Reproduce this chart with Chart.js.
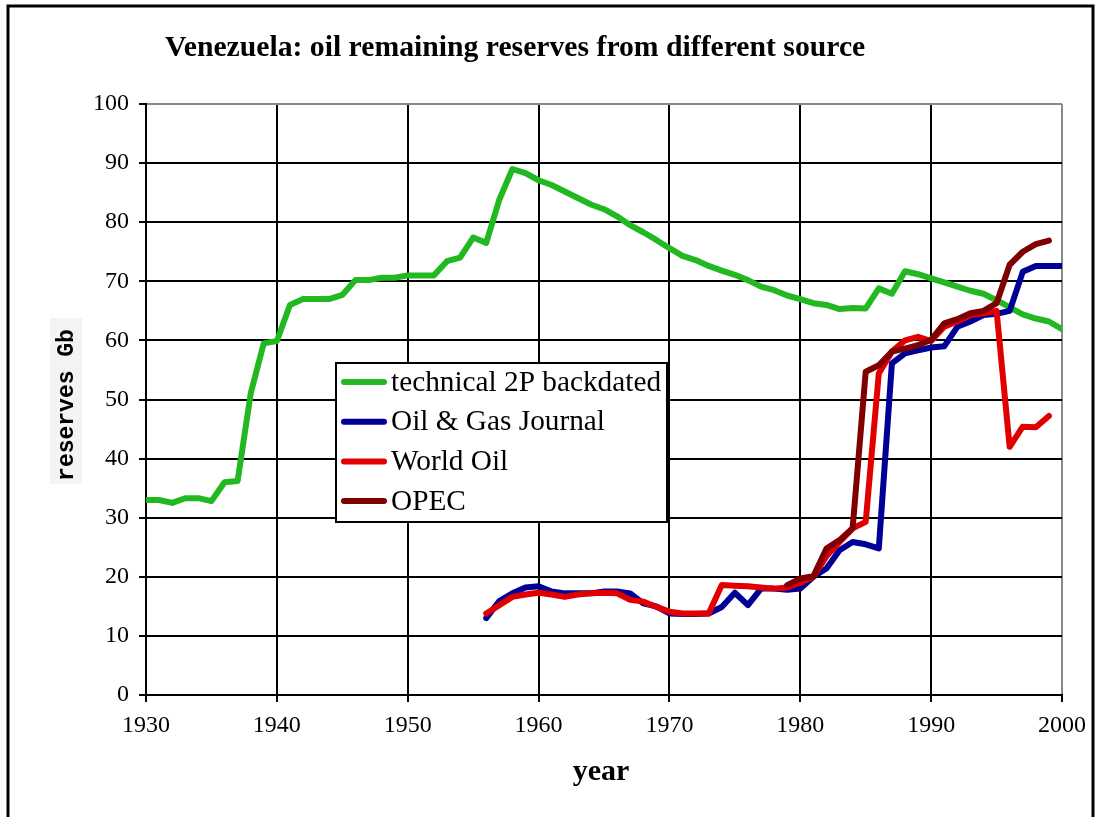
<!DOCTYPE html>
<html>
<head>
<meta charset="utf-8">
<title>Venezuela oil reserves</title>
<script src="https://cdn.jsdelivr.net/npm/chart.js@4.4.1/dist/chart.umd.min.js"></script>
<style>
    html, body { margin: 0; padding: 0; background: #fff; }
    #wrap { width: 1096px; height: 817px; }
</style>
</head>
<body>
<div id="wrap"><canvas id="reservesChart" width="1096" height="817"></canvas></div>
<script>
// years 1930 - 2000
const years = [
    1930, 1931, 1932, 1933, 1934, 1935, 1936, 1937, 1938, 1939,
    1940, 1941, 1942, 1943, 1944, 1945, 1946, 1947, 1948, 1949,
    1950, 1951, 1952, 1953, 1954, 1955, 1956, 1957, 1958, 1959,
    1960, 1961, 1962, 1963, 1964, 1965, 1966, 1967, 1968, 1969,
    1970, 1971, 1972, 1973, 1974, 1975, 1976, 1977, 1978, 1979,
    1980, 1981, 1982, 1983, 1984, 1985, 1986, 1987, 1988, 1989,
    1990, 1991, 1992, 1993, 1994, 1995, 1996, 1997, 1998, 1999,
    2000
];

// technical 2P backdated, from 1930
const technical2P = [
    33.0, 33.0, 32.5, 33.3, 33.3, 32.8, 36.0, 36.2, 51.0, 59.5,
    59.9, 66.0, 67.0, 67.0, 67.0, 67.7, 70.2, 70.2, 70.6, 70.6,
    71.0, 71.0, 71.0, 73.4, 74.0, 77.4, 76.5, 83.8, 89.0, 88.3,
    87.1, 86.3, 85.2, 84.1, 83.0, 82.2, 81.0, 79.5, 78.3, 77.0,
    75.6, 74.3, 73.6, 72.6, 71.8, 71.1, 70.2, 69.1, 68.5, 67.6,
    67.0, 66.3, 66.0, 65.3, 65.5, 65.4, 68.8, 67.9, 71.7, 71.2,
    70.5, 69.8, 69.1, 68.4, 67.9, 66.8, 65.6, 64.4, 63.7, 63.2,
    61.9
];

// Oil & Gas Journal, from 1956
const ogjStart = 1956;
const oilGasJournal = [
    13.0, 15.9, 17.2, 18.2, 18.4, 17.5, 17.2, 17.2, 17.2, 17.5,
    17.5, 17.2, 15.5, 15.0, 13.8, 13.7, 13.7, 13.8, 14.9, 17.3,
    15.2, 18.0, 18.0, 17.8, 18.0, 20.0, 21.4, 24.5, 25.9, 25.5,
    24.8, 56.1, 57.8, 58.3, 58.8, 59.0, 62.3, 63.2, 64.3, 64.5,
    65.0, 71.6, 72.6, 72.6, 72.6
];

// World Oil, from 1956
const woStart = 1956;
const worldOil = [
    13.8, 15.2, 16.6, 17.0, 17.3, 17.0, 16.6, 17.0, 17.2, 17.3,
    17.2, 16.1, 15.8, 14.9, 14.1, 13.8, 13.8, 13.8, 18.6, 18.5,
    18.4, 18.2, 18.0, 18.2, 19.0, 20.0, 23.5, 25.9, 28.2, 29.3,
    54.4, 58.1, 60.0, 60.6, 59.9, 62.3, 63.2, 64.3, 64.6, 65.0,
    42.0, 45.4, 45.3, 47.2
];

// OPEC, from 1979
const opecStart = 1979;
const opec = [
    18.6, 19.7, 20.1, 24.8, 26.2, 28.2, 54.7, 55.8, 58.1, 58.6,
    59.2, 60.1, 62.9, 63.6, 64.6, 65.0, 66.3, 72.8, 75.0, 76.3,
    76.9
];

const seriesLabels = ['technical 2P backdated', 'Oil & Gas Journal', 'World Oil', 'OPEC'];
const seriesColors = ['#22b822', '#000096', '#e00000', '#800000'];

const serif = "'Liberation Serif', 'Times New Roman', serif";

function toPoints(values, startYear) {
    const from = years.indexOf(startYear);
    return values.map((v, i) => ({ x: years[from + i], y: v }));
}

// white page + outer frame
const framePlugin = {
    id: 'frame',
    beforeDraw(chart) {
        const ctx = chart.ctx;
        ctx.save();
        ctx.fillStyle = '#fff';
        ctx.fillRect(0, 0, chart.width, chart.height);
        ctx.strokeStyle = '#000';
        ctx.lineWidth = 3;
        ctx.strokeRect(8, 6, 1085, 840);
        ctx.restore();
    }
};

// title, axis titles and the boxed legend
const textPlugin = {
    id: 'texts',
    afterDraw(chart) {
        const ctx = chart.ctx;
        ctx.save();

        ctx.fillStyle = '#000';
        ctx.textBaseline = 'middle';
        ctx.textAlign = 'left';
        ctx.font = 'bold 29.7px ' + serif;
        ctx.fillText('Venezuela: oil remaining reserves from different source', 165, 48);

        ctx.textAlign = 'center';
        ctx.font = 'bold 30px ' + serif;
        ctx.fillText('year', 601, 772);

        // y axis title
        ctx.fillStyle = '#f4f4f4';
        ctx.fillRect(50, 318, 32, 166);
        ctx.translate(67, 405);
        ctx.rotate(-Math.PI / 2);
        ctx.fillStyle = '#000';
        ctx.font = "bold 23px 'Liberation Mono', 'Courier New', monospace";
        ctx.fillText('reserves Gb', 0, 0);
        ctx.setTransform(1, 0, 0, 1, 0, 0);

        // legend
        const lx = 336, ly = 363, lw = 331, lh = 159;
        ctx.fillStyle = '#fff';
        ctx.fillRect(lx, ly, lw, lh);
        ctx.strokeStyle = '#000';
        ctx.lineWidth = 2;
        ctx.strokeRect(lx, ly, lw, lh);
        ctx.textAlign = 'left';
        ctx.font = '29.3px ' + serif;
        seriesLabels.forEach((label, i) => {
            const y = 382 + i * 39.7;
            ctx.strokeStyle = seriesColors[i];
            ctx.lineWidth = 6;
            ctx.lineCap = 'round';
            ctx.beginPath();
            ctx.moveTo(344, y);
            ctx.lineTo(384, y);
            ctx.stroke();
            ctx.fillStyle = '#000';
            ctx.fillText(label, 391, y + 1);
        });

        ctx.restore();
    }
};

Chart.defaults.color = '#000';

const ctx = document.getElementById('reservesChart').getContext('2d');
const reservesChart = new Chart(ctx, {
    type: 'line',
    data: {
        datasets: [
            {
                label: seriesLabels[0],
                data: toPoints(technical2P, 1930),
                borderColor: seriesColors[0],
                order: 4
            },
            {
                label: seriesLabels[1],
                data: toPoints(oilGasJournal, ogjStart),
                borderColor: seriesColors[1],
                order: 3
            },
            {
                label: seriesLabels[2],
                data: toPoints(worldOil, woStart),
                borderColor: seriesColors[2],
                order: 2
            },
            {
                label: seriesLabels[3],
                data: toPoints(opec, opecStart),
                borderColor: seriesColors[3],
                order: 1
            }
        ]
    },
    options: {
        responsive: false,
        animation: false,
        devicePixelRatio: 1,
        elements: {
            line: {
                borderWidth: 6,
                tension: 0,
                fill: false,
                borderJoinStyle: 'round',
                borderCapStyle: 'round'
            },
            point: { radius: 0, hoverRadius: 0 }
        },
        layout: {
            padding: { top: 104, right: 34, left: 0, bottom: 0 }
        },
        scales: {
            x: {
                type: 'linear',
                min: 1930,
                max: 2000,
                ticks: {
                    stepSize: 10,
                    padding: 9,
                    font: { family: serif, size: 24 },
                    callback: v => String(v)
                },
                grid: {
                    color: c => (c.tick && c.tick.value === 2000) ? '#8a8a8a' : '#000',
                    lineWidth: 2,
                    tickLength: 7,
                    tickColor: '#000'
                },
                border: { display: true, color: '#000', width: 2 },
                afterFit: scale => { scale.height = 122; }
            },
            y: {
                min: 0,
                max: 100,
                ticks: {
                    stepSize: 10,
                    padding: 10,
                    font: { family: serif, size: 24 }
                },
                grid: {
                    color: c => (c.tick && c.tick.value === 100) ? '#8a8a8a' : '#000',
                    lineWidth: 2,
                    tickLength: 7,
                    tickColor: '#000'
                },
                border: { display: true, color: '#000', width: 2 },
                afterFit: scale => { scale.width = 146; }
            }
        },
        plugins: {
            legend: { display: false },
            tooltip: { enabled: false },
            title: { display: false }
        }
    },
    plugins: [framePlugin, textPlugin]
});
</script>
</body>
</html>
